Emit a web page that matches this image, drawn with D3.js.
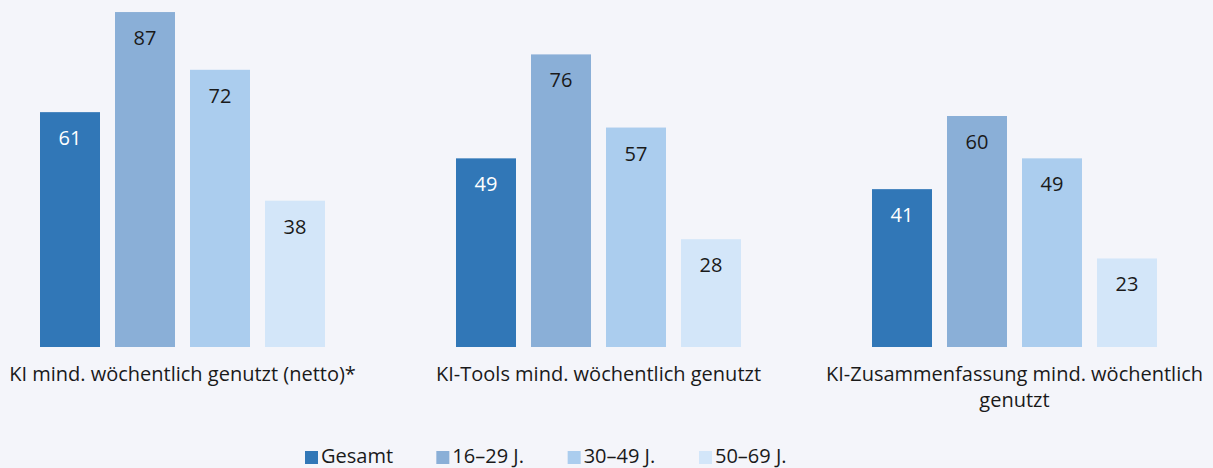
<!DOCTYPE html>
<html>
<head>
<meta charset="utf-8">
<script src="https://cdn.jsdelivr.net/npm/d3@7"></script>
<style>
  html, body { margin: 0; padding: 0; background: #f4f5fa; }
  svg { display: block; font-family: "Open Sans", sans-serif; }
</style>
</head>
<body>
<div id="chart"></div>
<script>
const categories = [
  ["KI mind. wöchentlich genutzt (netto)*"],
  ["KI-Tools mind. wöchentlich genutzt"],
  ["KI-Zusammenfassung mind. wöchentlich", "genutzt"]
]
const series = ["Gesamt", "16–29 J.", "30–49 J.", "50–69 J."]
const colors = ["#3177b7", "#8aafd7", "#abcdee", "#d3e6f9"]
const values = [
  [61, 87, 72, 38],
  [49, 76, 57, 28],
  [41, 60, 49, 23]
]

const width = 1213, height = 468

const svg = d3.select("#chart").append("svg")
  .attr("width", width)
  .attr("height", height)

const catKeys = categories.map(c => c.join(" "))

const x0 = d3.scaleBand()
  .domain(catKeys)
  .range([40, 1157])
  .paddingInner(131 / 416)
  .paddingOuter(0)

const x1 = d3.scaleBand()
  .domain(series)
  .range([0, x0.bandwidth()])
  .paddingInner(0.2)
  .paddingOuter(0)

const y = d3.scaleLinear()
  .domain([0, 100])
  .range([347, 347 - 385])

const groups = svg.selectAll("g.group")
  .data(categories)
  .join("g")
  .attr("class", "group")
  .attr("transform", (d, i) => `translate(${x0(catKeys[i])},0)`)

groups.each(function(cat, gi) {
  let g = d3.select(this)
  let rows = series.map((s, si) => ({ s, si, v: values[gi][si] }))

  g.selectAll("rect")
    .data(rows)
    .join("rect")
    .attr("x", d => x1(d.s))
    .attr("y", d => y(d.v))
    .attr("width", x1.bandwidth())
    .attr("height", d => y(0) - y(d.v))
    .attr("fill", d => colors[d.si])

  g.selectAll("text.val")
    .data(rows)
    .join("text")
    .attr("class", "val")
    .attr("x", d => x1(d.s) + x1.bandwidth() / 2)
    .attr("y", d => y(d.v) + 33)
    .attr("text-anchor", "middle")
    .attr("font-size", 20)
    .attr("fill", d => d.si === 0 ? "#ffffff" : "#1a1a1a")
    .text(d => d.v)

  g.selectAll("text.cat")
    .data(cat)
    .join("text")
    .attr("class", "cat")
    .attr("x", x0.bandwidth() / 2)
    .attr("y", (d, li) => 381 + li * 26)
    .attr("text-anchor", "middle")
    .attr("font-size", 20)
    .attr("fill", "#1a1a1a")
    .text(d => d)
})

// legend
const legendX = d3.scalePoint()
  .domain(series)
  .range([305, 699])

const legend = svg.selectAll("g.legend")
  .data(series)
  .join("g")
  .attr("class", "legend")
  .attr("transform", d => `translate(${legendX(d)},451)`)

legend.append("rect")
  .attr("width", 13)
  .attr("height", 13)
  .attr("fill", (d, i) => colors[i])

legend.append("text")
  .attr("x", 16)
  .attr("y", 12)
  .attr("font-size", 20)
  .attr("fill", "#1a1a1a")
  .text(d => d)
</script>
</body>
</html>
